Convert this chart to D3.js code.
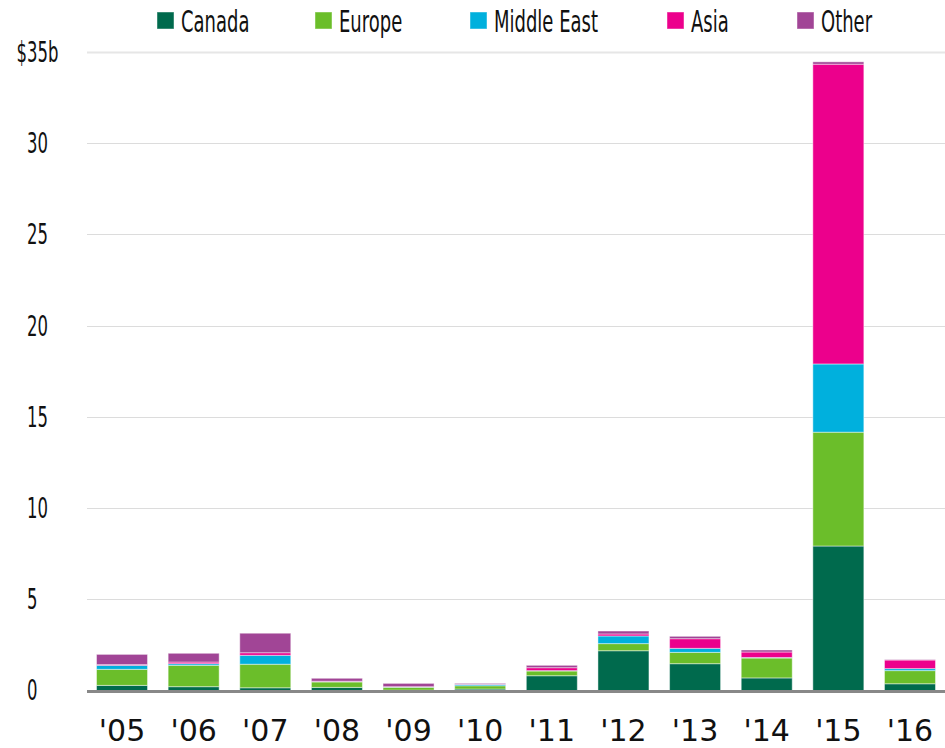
<!DOCTYPE html>
<html>
<head>
<meta charset="utf-8">
<script src="https://cdn.jsdelivr.net/npm/d3@7"></script>
<style>
  html, body { margin: 0; padding: 0; background: #fff; }
  svg { display: block; }
  text { font-family: "DejaVu Sans", "Noto Sans", sans-serif; fill: #111; }
</style>
</head>
<body>
<svg id="chart" width="945" height="748"></svg>
<script>
// Foreign acquisitions by region, billions of dollars
const years = ["'05", "'06", "'07", "'08", "'09", "'10", "'11", "'12", "'13", "'14", "'15", "'16"];
const regions = ["Canada", "Europe", "Middle East", "Asia", "Other"];
const canada     = [0.28, 0.21, 0.15, 0.17, 0.02, 0.08, 0.81, 2.18, 1.47, 0.69, 7.92, 0.37];
const europe     = [0.88, 1.17, 1.29, 0.30, 0.16, 0.18, 0.26, 0.39, 0.62, 1.09, 6.24, 0.72];
const middleEast = [0.22, 0.09, 0.49, 0.02, 0.01, 0.07, 0.02, 0.42, 0.22, 0.03, 3.74, 0.11];
const asia       = [0.04, 0.09, 0.14, 0.02, 0.02, 0.01, 0.16, 0.11, 0.53, 0.30, 16.43, 0.47];
const other      = [0.56, 0.48, 1.07, 0.16, 0.18, 0.05, 0.13, 0.16, 0.13, 0.11, 0.13, 0.02];
const yTicks = [0, 5, 10, 15, 20, 25, 30, 35];
const colors = ["#006a4d", "#6bbe2a", "#00b0dd", "#ec008c", "#a14596"];

const series = [canada, europe, middleEast, asia, other];
const rows = years.map((yr, i) => {
  const r = { year: yr };
  regions.forEach((name, k) => { r[name] = series[k][i]; });
  return r;
});

const svg = d3.select("#chart");
const plotLeft = 87, plotRight = 945;
const narrow = 0.6; // horizontal squeeze for a condensed look

const x = d3.scaleBand().domain(years).range([86.2, 945.8])
  .paddingInner(0.288).paddingOuter(0.144);
const y = d3.scaleLinear().domain([0, 35]).range([690.5, 52]);
const color = d3.scaleOrdinal().domain(regions).range(colors);

// horizontal grid
svg.append("g").selectAll("line")
  .data(yTicks.filter(t => t > 0))
  .join("line")
  .attr("x1", plotLeft).attr("x2", plotRight)
  .attr("y1", d => Math.round(y(d)) + 0.5).attr("y2", d => Math.round(y(d)) + 0.5)
  .attr("stroke", d => d === 35 ? "#e6e6e6" : "#dcdcdc")
  .attr("stroke-width", d => d === 35 ? 2 : 1);

// y labels
const yl = svg.append("g");
yl.selectAll("text")
  .data(yTicks)
  .join("text")
  .attr("transform", d => `translate(27,${y(d)}) scale(${narrow},1)`)
  .attr("dy", "0.36em")
  .attr("font-size", 27.5)
  .text(d => d === 35 ? "35b" : d);
yl.append("text")
  .attr("transform", `translate(27,${y(35)}) scale(${narrow},1)`)
  .attr("dy", "0.36em")
  .attr("text-anchor", "end").attr("font-size", 27.5).text("$");

// stacked bars
const stack = d3.stack().keys(regions)(rows);
svg.append("g").selectAll("g")
  .data(stack)
  .join("g")
  .attr("fill", d => color(d.key))
  .selectAll("rect")
  .data(d => d)
  .join("rect")
  .attr("x", d => x(d.data.year))
  .attr("width", x.bandwidth())
  .attr("y", d => y(d[1]))
  .attr("height", d => Math.max(0, y(d[0]) - y(d[1])))
  .attr("stroke", "rgba(255,255,255,0.45)")
  .attr("stroke-width", 1);

// baseline
svg.append("line")
  .attr("x1", plotLeft).attr("x2", plotRight)
  .attr("y1", y(0) + 1).attr("y2", y(0) + 1)
  .attr("stroke", "#888").attr("stroke-width", 3);

// x axis labels
svg.append("g").selectAll("text")
  .data(years)
  .join("text")
  .attr("x", d => x(d) + x.bandwidth() / 2)
  .attr("y", 740.5)
  .attr("text-anchor", "middle")
  .attr("font-size", 30)
  .text(d => d);

// legend
const legendX = [157, 315, 470, 667, 797];
const lg = svg.append("g").selectAll("g")
  .data(regions)
  .join("g")
  .attr("transform", (d, i) => `translate(${legendX[i]},12)`);
lg.append("rect")
  .attr("width", 17).attr("height", 17)
  .attr("fill", d => color(d))
  .attr("stroke", "rgba(255,255,255,0.45)");
lg.append("text")
  .attr("transform", `translate(24,9) scale(${narrow},1)`)
  .attr("dy", "0.36em")
  .attr("font-size", 30)
  .text(d => d);
</script>
</body>
</html>
